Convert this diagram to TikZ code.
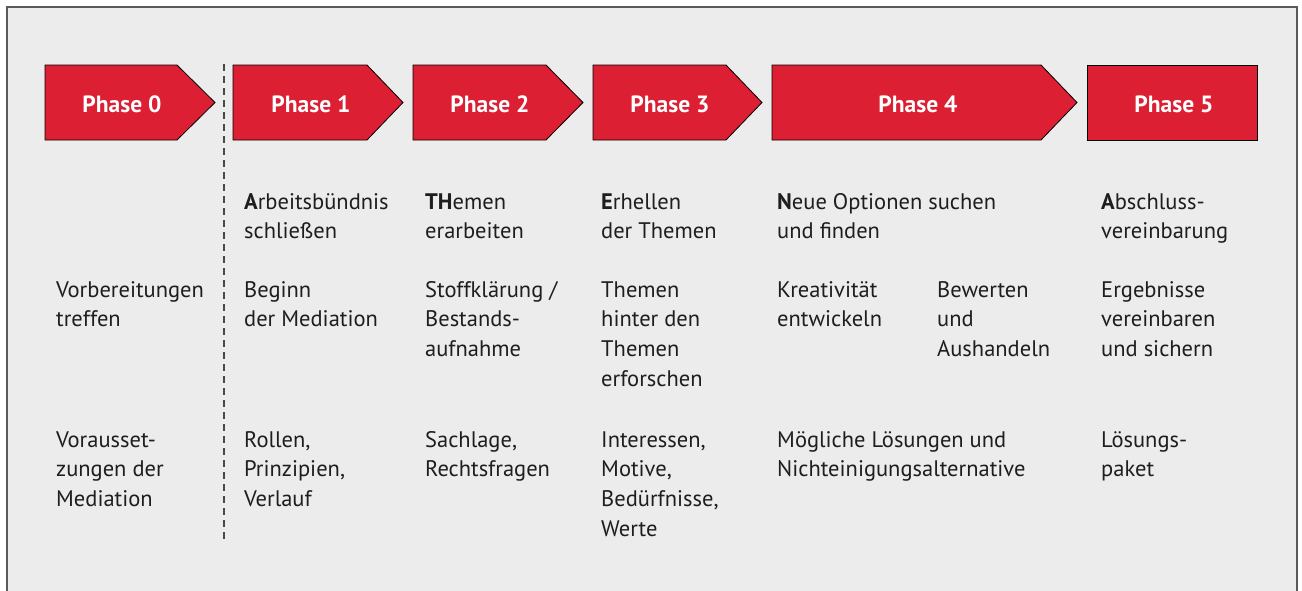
\documentclass[tikz,border=0pt]{standalone}
\usepackage{fontspec}
\setmainfont{PT Sans}
\definecolor{phred}{HTML}{DC1F33}
\definecolor{bgg}{HTML}{ECECEC}
\definecolor{frameg}{HTML}{5A5A5A}
\definecolor{txtc}{HTML}{1E1E1E}
\newcommand{\fstrut}{\rule{0pt}{17pt}}
\tikzset{
  phasearrow/.style={fill=phred, draw=black, line width=0.8pt, line join=miter},
  phaselabel/.style={text=white, font=\fontsize{23.5}{27}\selectfont\bfseries, inner sep=0pt},
  txt/.style={anchor=north west, inner sep=0pt, align=left, text=txtc,
    font=\fontsize{22.5}{29.7}\selectfont},
  divider/.style={draw=frameg!80!black, line width=1.4pt, dash pattern=on 7pt off 5pt}
}
\begin{document}
\begin{tikzpicture}[x=1pt, y=-1pt]
\useasboundingbox (0,0) rectangle (1302,590);
\clip (0,0) rectangle (1302,590);
\draw[fill=bgg, draw=frameg, line width=1.2pt] (7,7) rectangle (1297,620);

% phase arrows
\path[phasearrow] (45,65) -- (177,65) -- (215,102.5) -- (177,140) -- (45,140) -- cycle;
\path[phasearrow] (233,65) -- (367,65) -- (403,102.5) -- (367,140) -- (233,140) -- cycle;
\path[phasearrow] (413,65) -- (546,65) -- (583,102.5) -- (546,140) -- (413,140) -- cycle;
\path[phasearrow] (593,65) -- (726,65) -- (762,102.5) -- (726,140) -- (593,140) -- cycle;
\path[phasearrow] (772,65) -- (1041,65) -- (1077,102.5) -- (1041,140) -- (772,140) -- cycle;
\path[phasearrow] (1087,65) rectangle (1257,140);

\node[phaselabel] (p0) at (122,104) {Phase 0};
\node[phaselabel] (p1) at (311,104) {Phase 1};
\node[phaselabel] (p2) at (490,104) {Phase 2};
\node[phaselabel] (p3) at (670,104) {Phase 3};
\node[phaselabel] (p4) at (918,104) {Phase 4};
\node[phaselabel] (p5) at (1174,104) {Phase 5};

% divider
\coordinate (dtop) at (224,64);
\coordinate (dbot) at (224,540);
\draw[divider] (dtop) -- (dbot);

% row A (baseline 209)
\node[txt] (a1) at (244,192) {\fstrut\textbf{A}rbeitsbündnis\\schließen};
\node[txt] (a2) at (425,192) {\fstrut\textbf{TH}emen\\erarbeiten};
\node[txt] (a3) at (601,192) {\fstrut\textbf{E}rhellen\\der Themen};
\node[txt] (a4) at (777,192) {\fstrut\textbf{N}eue Optionen suchen\\und finden};
\node[txt] (a5) at (1101,192) {\fstrut\textbf{A}bschluss-\\vereinbarung};

% row B (baseline 297)
\node[txt] (b0) at (56,280) {\fstrut Vorbereitungen\\treffen};
\node[txt] (b1) at (244,280) {\fstrut Beginn\\der Mediation};
\node[txt] (b2) at (425,280) {\fstrut Stoffklärung /\\Bestands-\\aufnahme};
\node[txt] (b3) at (601,280) {\fstrut Themen\\hinter den\\Themen\\erforschen};
\node[txt] (b4) at (777,280) {\fstrut Kreativität\\entwickeln};
\node[txt] (b4b) at (937,280) {\fstrut Bewerten\\und\\Aushandeln};
\node[txt] (b5) at (1101,280) {\fstrut Ergebnisse\\vereinbaren\\und sichern};

% row C (baseline 447)
\node[txt] (c0) at (56,430) {\fstrut Vorausset-\\zungen der\\Mediation};
\node[txt] (c1) at (244,430) {\fstrut Rollen,\\Prinzipien,\\Verlauf};
\node[txt] (c2) at (425,430) {\fstrut Sachlage,\\Rechtsfragen};
\node[txt] (c3) at (601,430) {\fstrut Interessen,\\Motive,\\Bedürfnisse,\\Werte};
\node[txt] (c4) at (777,430) {\fstrut Mögliche Lösungen und\\Nichteinigungsalternative};
\node[txt] (c5) at (1101,430) {\fstrut Lösungs-\\paket};
\end{tikzpicture}
\end{document}
